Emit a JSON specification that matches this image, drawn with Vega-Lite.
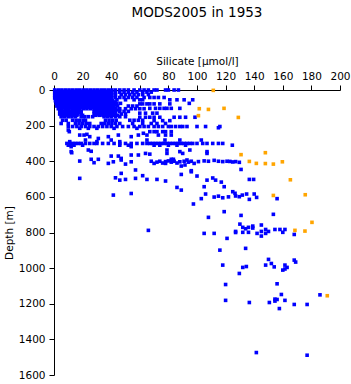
{
"$schema":"https://vega.github.io/schema/vega-lite/v6.json",
"width":286,"height":285,
"autosize":{"type":"none"},
"padding":{"left":54,"top":90,"right":11,"bottom":9},
"background":"white",
"title":{"text":"MODS2005 in 1953","font":"DejaVu Sans","fontSize":13.5,"fontWeight":"normal","color":"black","anchor":"middle","offset":37},
"config":{"view":{"stroke":null},"axis":{"grid":false,"domainColor":"black","tickColor":"black","tickSize":5,"labelColor":"black","labelFont":"DejaVu Sans","labelFontSize":10.5,"titleFont":"DejaVu Sans","titleFontSize":10.5,"titleFontWeight":"normal","titleColor":"black","labelPadding":4,"titlePadding":5,"labelOverlap":false,"labelFlush":false,"format":"d"}},
"data":{"values":[
{"si":0.5,"depth":0,"q":"ok"},{"si":3,"depth":0,"q":"ok"},{"si":5.5,"depth":0,"q":"ok"},{"si":8,"depth":0,"q":"ok"},{"si":10.5,"depth":0,"q":"ok"},{"si":13,"depth":0,"q":"ok"},{"si":15.5,"depth":0,"q":"ok"},{"si":18,"depth":0,"q":"ok"},{"si":20.5,"depth":0,"q":"ok"},{"si":23,"depth":0,"q":"ok"},{"si":25.5,"depth":0,"q":"ok"},{"si":28,"depth":0,"q":"ok"},{"si":30.5,"depth":0,"q":"ok"},{"si":33,"depth":0,"q":"ok"},{"si":35.5,"depth":0,"q":"ok"},{"si":38,"depth":0,"q":"ok"},{"si":40.5,"depth":0,"q":"ok"},
{"si":43,"depth":0,"q":"ok"},{"si":46,"depth":0,"q":"ok"},{"si":49,"depth":0,"q":"ok"},{"si":52,"depth":0,"q":"ok"},{"si":56,"depth":0,"q":"ok"},{"si":60,"depth":0,"q":"ok"},{"si":63,"depth":0,"q":"ok"},{"si":66,"depth":0,"q":"ok"},{"si":70,"depth":0,"q":"ok"},{"si":72,"depth":0,"q":"ok"},{"si":78,"depth":0,"q":"ok"},{"si":80,"depth":0,"q":"ok"},{"si":84,"depth":0,"q":"ok"},{"si":87,"depth":0,"q":"ok"},
{"si":1.75,"depth":7,"q":"ok"},{"si":4.25,"depth":7,"q":"ok"},{"si":6.75,"depth":7,"q":"ok"},{"si":9.25,"depth":7,"q":"ok"},{"si":11.75,"depth":7,"q":"ok"},{"si":14.25,"depth":7,"q":"ok"},{"si":16.75,"depth":7,"q":"ok"},{"si":19.25,"depth":7,"q":"ok"},{"si":21.75,"depth":7,"q":"ok"},{"si":24.25,"depth":7,"q":"ok"},{"si":26.75,"depth":7,"q":"ok"},{"si":29.25,"depth":7,"q":"ok"},{"si":31.75,"depth":7,"q":"ok"},{"si":34.25,"depth":7,"q":"ok"},{"si":36.75,"depth":7,"q":"ok"},{"si":39.25,"depth":7,"q":"ok"},
{"si":0.5,"depth":15,"q":"ok"},{"si":3,"depth":15,"q":"ok"},{"si":5.5,"depth":15,"q":"ok"},{"si":8,"depth":15,"q":"ok"},{"si":10.5,"depth":15,"q":"ok"},{"si":13,"depth":15,"q":"ok"},{"si":15.5,"depth":15,"q":"ok"},{"si":18,"depth":15,"q":"ok"},{"si":20.5,"depth":15,"q":"ok"},{"si":23,"depth":15,"q":"ok"},{"si":25.5,"depth":15,"q":"ok"},{"si":28,"depth":15,"q":"ok"},{"si":30.5,"depth":15,"q":"ok"},{"si":33,"depth":15,"q":"ok"},{"si":35.5,"depth":15,"q":"ok"},{"si":38,"depth":15,"q":"ok"},{"si":40.5,"depth":15,"q":"ok"},
{"si":43,"depth":12,"q":"ok"},{"si":46,"depth":12,"q":"ok"},{"si":49,"depth":12,"q":"ok"},{"si":52,"depth":12,"q":"ok"},{"si":55,"depth":12,"q":"ok"},{"si":58,"depth":12,"q":"ok"},{"si":62,"depth":12,"q":"ok"},{"si":65,"depth":12,"q":"ok"},{"si":68,"depth":12,"q":"ok"},
{"si":1.75,"depth":22,"q":"ok"},{"si":4.25,"depth":22,"q":"ok"},{"si":6.75,"depth":22,"q":"ok"},{"si":9.25,"depth":22,"q":"ok"},{"si":11.75,"depth":22,"q":"ok"},{"si":14.25,"depth":22,"q":"ok"},{"si":16.75,"depth":22,"q":"ok"},{"si":19.25,"depth":22,"q":"ok"},{"si":21.75,"depth":22,"q":"ok"},{"si":24.25,"depth":22,"q":"ok"},{"si":26.75,"depth":22,"q":"ok"},{"si":29.25,"depth":22,"q":"ok"},{"si":31.75,"depth":22,"q":"ok"},{"si":34.25,"depth":22,"q":"ok"},{"si":36.75,"depth":22,"q":"ok"},{"si":39.25,"depth":22,"q":"ok"},
{"si":0.5,"depth":30,"q":"ok"},{"si":3,"depth":30,"q":"ok"},{"si":5.5,"depth":30,"q":"ok"},{"si":8,"depth":30,"q":"ok"},{"si":10.5,"depth":30,"q":"ok"},{"si":13,"depth":30,"q":"ok"},{"si":15.5,"depth":30,"q":"ok"},{"si":18,"depth":30,"q":"ok"},{"si":20.5,"depth":30,"q":"ok"},{"si":23,"depth":30,"q":"ok"},{"si":25.5,"depth":30,"q":"ok"},{"si":28,"depth":30,"q":"ok"},{"si":30.5,"depth":30,"q":"ok"},{"si":33,"depth":30,"q":"ok"},{"si":35.5,"depth":30,"q":"ok"},{"si":38,"depth":30,"q":"ok"},{"si":40.5,"depth":30,"q":"ok"},
{"si":43,"depth":26,"q":"ok"},{"si":47,"depth":26,"q":"ok"},{"si":50,"depth":26,"q":"ok"},{"si":53,"depth":26,"q":"ok"},{"si":56,"depth":26,"q":"ok"},{"si":59,"depth":26,"q":"ok"},{"si":62,"depth":26,"q":"ok"},{"si":66,"depth":26,"q":"ok"},
{"si":1.75,"depth":37,"q":"ok"},{"si":4.25,"depth":37,"q":"ok"},{"si":6.75,"depth":37,"q":"ok"},{"si":9.25,"depth":37,"q":"ok"},{"si":11.75,"depth":37,"q":"ok"},{"si":14.25,"depth":37,"q":"ok"},{"si":16.75,"depth":37,"q":"ok"},{"si":19.25,"depth":37,"q":"ok"},{"si":21.75,"depth":37,"q":"ok"},{"si":24.25,"depth":37,"q":"ok"},{"si":26.75,"depth":37,"q":"ok"},{"si":29.25,"depth":37,"q":"ok"},{"si":31.75,"depth":37,"q":"ok"},{"si":34.25,"depth":37,"q":"ok"},{"si":36.75,"depth":37,"q":"ok"},{"si":39.25,"depth":37,"q":"ok"},
{"si":0.5,"depth":45,"q":"ok"},{"si":3,"depth":45,"q":"ok"},{"si":5.5,"depth":45,"q":"ok"},{"si":8,"depth":45,"q":"ok"},{"si":10.5,"depth":45,"q":"ok"},{"si":13,"depth":45,"q":"ok"},{"si":15.5,"depth":45,"q":"ok"},{"si":18,"depth":45,"q":"ok"},{"si":20.5,"depth":45,"q":"ok"},{"si":23,"depth":45,"q":"ok"},{"si":25.5,"depth":45,"q":"ok"},{"si":28,"depth":45,"q":"ok"},{"si":30.5,"depth":45,"q":"ok"},{"si":33,"depth":45,"q":"ok"},{"si":35.5,"depth":45,"q":"ok"},{"si":38,"depth":45,"q":"ok"},{"si":40.5,"depth":45,"q":"ok"},
{"si":43,"depth":42,"q":"ok"},{"si":46,"depth":42,"q":"ok"},{"si":49,"depth":42,"q":"ok"},{"si":52,"depth":42,"q":"ok"},{"si":55,"depth":42,"q":"ok"},{"si":58,"depth":42,"q":"ok"},{"si":63,"depth":42,"q":"ok"},{"si":67,"depth":42,"q":"ok"},{"si":70,"depth":42,"q":"ok"},{"si":73,"depth":42,"q":"ok"},{"si":77,"depth":42,"q":"ok"},
{"si":1.75,"depth":52,"q":"ok"},{"si":4.25,"depth":52,"q":"ok"},{"si":6.75,"depth":52,"q":"ok"},{"si":9.25,"depth":52,"q":"ok"},{"si":11.75,"depth":52,"q":"ok"},{"si":14.25,"depth":52,"q":"ok"},{"si":16.75,"depth":52,"q":"ok"},{"si":19.25,"depth":52,"q":"ok"},{"si":21.75,"depth":52,"q":"ok"},{"si":24.25,"depth":52,"q":"ok"},{"si":26.75,"depth":52,"q":"ok"},{"si":29.25,"depth":52,"q":"ok"},{"si":31.75,"depth":52,"q":"ok"},{"si":34.25,"depth":52,"q":"ok"},{"si":36.75,"depth":52,"q":"ok"},{"si":39.25,"depth":52,"q":"ok"},
{"si":1,"depth":60,"q":"ok"},{"si":3.5,"depth":60,"q":"ok"},{"si":6,"depth":60,"q":"ok"},{"si":8.5,"depth":60,"q":"ok"},{"si":11,"depth":60,"q":"ok"},{"si":13.5,"depth":60,"q":"ok"},{"si":16,"depth":60,"q":"ok"},{"si":18.5,"depth":60,"q":"ok"},{"si":21,"depth":60,"q":"ok"},{"si":23.5,"depth":60,"q":"ok"},{"si":26,"depth":60,"q":"ok"},{"si":28.5,"depth":60,"q":"ok"},{"si":31,"depth":60,"q":"ok"},{"si":33.5,"depth":60,"q":"ok"},{"si":36,"depth":60,"q":"ok"},{"si":38.5,"depth":60,"q":"ok"},{"si":41,"depth":60,"q":"ok"},
{"si":44,"depth":55,"q":"ok"},{"si":50,"depth":55,"q":"ok"},{"si":56,"depth":55,"q":"ok"},{"si":60,"depth":55,"q":"ok"},{"si":62,"depth":55,"q":"ok"},{"si":81,"depth":55,"q":"ok"},{"si":86,"depth":55,"q":"ok"},{"si":91,"depth":55,"q":"ok"},{"si":97,"depth":55,"q":"ok"},
{"si":2.75,"depth":67,"q":"ok"},{"si":5.25,"depth":67,"q":"ok"},{"si":7.75,"depth":67,"q":"ok"},{"si":10.25,"depth":67,"q":"ok"},{"si":12.75,"depth":67,"q":"ok"},{"si":15.25,"depth":67,"q":"ok"},{"si":17.75,"depth":67,"q":"ok"},{"si":20.25,"depth":67,"q":"ok"},{"si":22.75,"depth":67,"q":"ok"},{"si":25.25,"depth":67,"q":"ok"},{"si":27.75,"depth":67,"q":"ok"},{"si":30.25,"depth":67,"q":"ok"},{"si":32.75,"depth":67,"q":"ok"},{"si":35.25,"depth":67,"q":"ok"},{"si":37.75,"depth":67,"q":"ok"},{"si":40.25,"depth":67,"q":"ok"},{"si":42.75,"depth":67,"q":"ok"},
{"si":1.5,"depth":75,"q":"ok"},{"si":4,"depth":75,"q":"ok"},{"si":6.5,"depth":75,"q":"ok"},{"si":9,"depth":75,"q":"ok"},{"si":11.5,"depth":75,"q":"ok"},{"si":14,"depth":75,"q":"ok"},{"si":16.5,"depth":75,"q":"ok"},{"si":19,"depth":75,"q":"ok"},{"si":21.5,"depth":75,"q":"ok"},{"si":24,"depth":75,"q":"ok"},{"si":26.5,"depth":75,"q":"ok"},{"si":29,"depth":75,"q":"ok"},{"si":31.5,"depth":75,"q":"ok"},{"si":34,"depth":75,"q":"ok"},{"si":36.5,"depth":75,"q":"ok"},{"si":39,"depth":75,"q":"ok"},{"si":41.5,"depth":75,"q":"ok"},{"si":44,"depth":75,"q":"ok"},{"si":46.5,"depth":75,"q":"ok"},
{"si":60,"depth":78,"q":"ok"},{"si":62,"depth":78,"q":"ok"},{"si":65,"depth":78,"q":"ok"},{"si":67,"depth":78,"q":"ok"},{"si":70,"depth":78,"q":"ok"},{"si":74,"depth":78,"q":"ok"},{"si":81,"depth":78,"q":"ok"},{"si":94.6,"depth":75,"q":"ok"},
{"si":2.75,"depth":82,"q":"ok"},{"si":5.25,"depth":82,"q":"ok"},{"si":7.75,"depth":82,"q":"ok"},{"si":10.25,"depth":82,"q":"ok"},{"si":12.75,"depth":82,"q":"ok"},{"si":15.25,"depth":82,"q":"ok"},{"si":17.75,"depth":82,"q":"ok"},{"si":20.25,"depth":82,"q":"ok"},{"si":22.75,"depth":82,"q":"ok"},{"si":25.25,"depth":82,"q":"ok"},{"si":27.75,"depth":82,"q":"ok"},{"si":30.25,"depth":82,"q":"ok"},{"si":32.75,"depth":82,"q":"ok"},{"si":35.25,"depth":82,"q":"ok"},{"si":37.75,"depth":82,"q":"ok"},{"si":40.25,"depth":82,"q":"ok"},{"si":42.75,"depth":82,"q":"ok"},
{"si":2,"depth":90,"q":"ok"},{"si":4.5,"depth":90,"q":"ok"},{"si":7,"depth":90,"q":"ok"},{"si":9.5,"depth":90,"q":"ok"},{"si":12,"depth":90,"q":"ok"},{"si":14.5,"depth":90,"q":"ok"},{"si":17,"depth":90,"q":"ok"},{"si":19.5,"depth":90,"q":"ok"},{"si":22,"depth":90,"q":"ok"},{"si":24.5,"depth":90,"q":"ok"},{"si":27,"depth":90,"q":"ok"},{"si":29.5,"depth":90,"q":"ok"},{"si":32,"depth":90,"q":"ok"},{"si":34.5,"depth":90,"q":"ok"},{"si":37,"depth":90,"q":"ok"},{"si":39.5,"depth":90,"q":"ok"},{"si":42,"depth":90,"q":"ok"},{"si":44.5,"depth":90,"q":"ok"},{"si":52,"depth":90,"q":"ok"},{"si":55,"depth":90,"q":"ok"},{"si":58,"depth":90,"q":"ok"},
{"si":4,"depth":97,"q":"ok"},{"si":6.5,"depth":97,"q":"ok"},{"si":9,"depth":97,"q":"ok"},{"si":11.5,"depth":97,"q":"ok"},{"si":14,"depth":97,"q":"ok"},{"si":16.5,"depth":97,"q":"ok"},{"si":19,"depth":97,"q":"ok"},{"si":21.5,"depth":97,"q":"ok"},{"si":24,"depth":97,"q":"ok"},{"si":26.5,"depth":97,"q":"ok"},{"si":29,"depth":97,"q":"ok"},{"si":31.5,"depth":97,"q":"ok"},{"si":34,"depth":97,"q":"ok"},{"si":36.5,"depth":97,"q":"ok"},{"si":39,"depth":97,"q":"ok"},{"si":41.5,"depth":97,"q":"ok"},
{"si":3,"depth":105,"q":"ok"},{"si":5.5,"depth":105,"q":"ok"},{"si":8,"depth":105,"q":"ok"},{"si":10.5,"depth":105,"q":"ok"},{"si":13,"depth":105,"q":"ok"},{"si":15.5,"depth":105,"q":"ok"},{"si":18,"depth":105,"q":"ok"},{"si":20.5,"depth":105,"q":"ok"},{"si":23,"depth":105,"q":"ok"},{"si":25.5,"depth":105,"q":"ok"},{"si":28,"depth":105,"q":"ok"},{"si":30.5,"depth":105,"q":"ok"},{"si":33,"depth":105,"q":"ok"},{"si":35.5,"depth":105,"q":"ok"},{"si":38,"depth":105,"q":"ok"},{"si":40.5,"depth":105,"q":"ok"},{"si":43,"depth":105,"q":"ok"},{"si":46,"depth":105,"q":"ok"},{"si":50,"depth":105,"q":"ok"},{"si":54,"depth":105,"q":"ok"},{"si":57,"depth":105,"q":"ok"},{"si":60,"depth":105,"q":"ok"},{"si":63,"depth":105,"q":"ok"},
{"si":67,"depth":103,"q":"ok"},{"si":71,"depth":103,"q":"ok"},{"si":74,"depth":103,"q":"ok"},{"si":77,"depth":103,"q":"ok"},{"si":79,"depth":103,"q":"ok"},{"si":82,"depth":103,"q":"ok"},{"si":88,"depth":103,"q":"ok"},
{"si":5.25,"depth":112,"q":"ok"},{"si":7.75,"depth":112,"q":"ok"},{"si":10.25,"depth":112,"q":"ok"},{"si":12.75,"depth":112,"q":"ok"},{"si":15.25,"depth":112,"q":"ok"},{"si":17.75,"depth":112,"q":"ok"},{"si":29.25,"depth":112,"q":"ok"},{"si":31.75,"depth":112,"q":"ok"},{"si":34.25,"depth":112,"q":"ok"},{"si":36.75,"depth":112,"q":"ok"},{"si":39.25,"depth":112,"q":"ok"},{"si":41.75,"depth":112,"q":"ok"},{"si":44.25,"depth":112,"q":"ok"},
{"si":4,"depth":120,"q":"ok"},{"si":6.5,"depth":120,"q":"ok"},{"si":9,"depth":120,"q":"ok"},{"si":11.5,"depth":120,"q":"ok"},{"si":14,"depth":120,"q":"ok"},{"si":16.5,"depth":120,"q":"ok"},{"si":19,"depth":120,"q":"ok"},{"si":28,"depth":120,"q":"ok"},{"si":30.5,"depth":120,"q":"ok"},{"si":33,"depth":120,"q":"ok"},{"si":35.5,"depth":120,"q":"ok"},{"si":38,"depth":120,"q":"ok"},{"si":40.5,"depth":120,"q":"ok"},{"si":43,"depth":120,"q":"ok"},{"si":46,"depth":120,"q":"ok"},{"si":49,"depth":120,"q":"ok"},{"si":52,"depth":120,"q":"ok"},
{"si":5.25,"depth":127,"q":"ok"},{"si":7.75,"depth":127,"q":"ok"},{"si":10.25,"depth":127,"q":"ok"},{"si":12.75,"depth":127,"q":"ok"},{"si":15.25,"depth":127,"q":"ok"},{"si":17.75,"depth":127,"q":"ok"},{"si":29.25,"depth":127,"q":"ok"},{"si":31.75,"depth":127,"q":"ok"},{"si":34.25,"depth":127,"q":"ok"},{"si":36.75,"depth":127,"q":"ok"},{"si":39.25,"depth":127,"q":"ok"},{"si":41.75,"depth":127,"q":"ok"},
{"si":4,"depth":135,"q":"ok"},{"si":6.5,"depth":135,"q":"ok"},{"si":9,"depth":135,"q":"ok"},{"si":11.5,"depth":135,"q":"ok"},{"si":14,"depth":135,"q":"ok"},{"si":16.5,"depth":135,"q":"ok"},{"si":19,"depth":135,"q":"ok"},{"si":28,"depth":135,"q":"ok"},{"si":30.5,"depth":135,"q":"ok"},{"si":33,"depth":135,"q":"ok"},{"si":35.5,"depth":135,"q":"ok"},{"si":38,"depth":135,"q":"ok"},{"si":40.5,"depth":135,"q":"ok"},{"si":43,"depth":135,"q":"ok"},{"si":47,"depth":135,"q":"ok"},{"si":50,"depth":135,"q":"ok"},{"si":60,"depth":130,"q":"ok"},{"si":64,"depth":130,"q":"ok"},{"si":69,"depth":130,"q":"ok"},{"si":72,"depth":130,"q":"ok"},
{"si":5.25,"depth":142,"q":"ok"},{"si":7.75,"depth":142,"q":"ok"},{"si":10.25,"depth":142,"q":"ok"},{"si":12.75,"depth":142,"q":"ok"},{"si":16,"depth":142,"q":"ok"},{"si":20,"depth":142,"q":"ok"},{"si":29.25,"depth":142,"q":"ok"},{"si":31.75,"depth":142,"q":"ok"},{"si":34.25,"depth":142,"q":"ok"},{"si":36.75,"depth":142,"q":"ok"},{"si":39.25,"depth":142,"q":"ok"},{"si":41.75,"depth":142,"q":"ok"},{"si":44.25,"depth":142,"q":"ok"},
{"si":5,"depth":150,"q":"ok"},{"si":7.5,"depth":150,"q":"ok"},{"si":10,"depth":150,"q":"ok"},{"si":12.5,"depth":150,"q":"ok"},{"si":15,"depth":150,"q":"ok"},{"si":19,"depth":150,"q":"ok"},{"si":21.5,"depth":150,"q":"ok"},{"si":24,"depth":150,"q":"ok"},{"si":27,"depth":150,"q":"ok"},{"si":35,"depth":150,"q":"ok"},{"si":37.5,"depth":150,"q":"ok"},{"si":40,"depth":150,"q":"ok"},{"si":43,"depth":150,"q":"ok"},{"si":46,"depth":150,"q":"ok"},{"si":50,"depth":150,"q":"ok"},
{"si":60,"depth":153,"q":"ok"},{"si":64,"depth":153,"q":"ok"},{"si":67,"depth":153,"q":"ok"},{"si":70,"depth":153,"q":"ok"},{"si":74,"depth":153,"q":"ok"},{"si":84,"depth":153,"q":"ok"},{"si":88,"depth":153,"q":"ok"},{"si":92,"depth":153,"q":"ok"},{"si":98.6,"depth":153,"q":"ok"},
{"si":6,"depth":170,"q":"ok"},{"si":8.5,"depth":170,"q":"ok"},{"si":13,"depth":170,"q":"ok"},{"si":15.5,"depth":170,"q":"ok"},{"si":18,"depth":170,"q":"ok"},{"si":20.5,"depth":170,"q":"ok"},{"si":22,"depth":170,"q":"ok"},{"si":36,"depth":170,"q":"ok"},{"si":38.5,"depth":170,"q":"ok"},{"si":41,"depth":170,"q":"ok"},{"si":43.5,"depth":170,"q":"ok"},{"si":53,"depth":170,"q":"ok"},{"si":56,"depth":170,"q":"ok"},{"si":59,"depth":170,"q":"ok"},{"si":62,"depth":170,"q":"ok"},{"si":70,"depth":172,"q":"ok"},{"si":76,"depth":172,"q":"ok"},{"si":81,"depth":172,"q":"ok"},
{"si":5,"depth":188,"q":"ok"},{"si":10,"depth":188,"q":"ok"},{"si":15,"depth":188,"q":"ok"},{"si":17.5,"depth":188,"q":"ok"},{"si":20,"depth":188,"q":"ok"},{"si":22.5,"depth":188,"q":"ok"},{"si":25,"depth":188,"q":"ok"},{"si":33,"depth":188,"q":"ok"},{"si":35.5,"depth":188,"q":"ok"},{"si":38,"depth":188,"q":"ok"},{"si":40.5,"depth":188,"q":"ok"},{"si":43,"depth":188,"q":"ok"},{"si":46,"depth":188,"q":"ok"},{"si":55,"depth":188,"q":"ok"},{"si":62,"depth":188,"q":"ok"},{"si":68,"depth":188,"q":"ok"},{"si":72,"depth":188,"q":"ok"},{"si":78,"depth":188,"q":"ok"},
{"si":10,"depth":205,"q":"ok"},{"si":13,"depth":205,"q":"ok"},{"si":16,"depth":205,"q":"ok"},{"si":19,"depth":205,"q":"ok"},{"si":22,"depth":205,"q":"ok"},{"si":25,"depth":205,"q":"ok"},{"si":28,"depth":205,"q":"ok"},{"si":31,"depth":205,"q":"ok"},{"si":34,"depth":205,"q":"ok"},{"si":37,"depth":205,"q":"ok"},{"si":40,"depth":205,"q":"ok"},{"si":44,"depth":205,"q":"ok"},{"si":48,"depth":205,"q":"ok"},{"si":52,"depth":205,"q":"ok"},{"si":56,"depth":205,"q":"ok"},{"si":60,"depth":205,"q":"ok"},{"si":63,"depth":205,"q":"ok"},{"si":66,"depth":205,"q":"ok"},{"si":70,"depth":205,"q":"ok"},{"si":73,"depth":205,"q":"ok"},{"si":76,"depth":205,"q":"ok"},{"si":80,"depth":205,"q":"ok"},{"si":82,"depth":205,"q":"ok"},{"si":85,"depth":205,"q":"ok"},{"si":88,"depth":205,"q":"ok"},{"si":90,"depth":205,"q":"ok"},{"si":93,"depth":205,"q":"ok"},{"si":100,"depth":205,"q":"ok"},{"si":106,"depth":205,"q":"ok"},{"si":116,"depth":205,"q":"ok"},
{"si":18,"depth":215,"q":"ok"},{"si":24,"depth":215,"q":"ok"},{"si":30,"depth":215,"q":"ok"},{"si":42,"depth":215,"q":"ok"},{"si":58,"depth":215,"q":"ok"},{"si":115,"depth":212,"q":"ok"},
{"si":10.7,"depth":234,"q":"ok"},{"si":21,"depth":253,"q":"ok"},{"si":25,"depth":262,"q":"ok"},{"si":31,"depth":272,"q":"ok"},{"si":38,"depth":262,"q":"ok"},{"si":40,"depth":281,"q":"ok"},{"si":45,"depth":253,"q":"ok"},{"si":54,"depth":262,"q":"ok"},{"si":59,"depth":253,"q":"ok"},{"si":62.5,"depth":243,"q":"ok"},{"si":65,"depth":281,"q":"ok"},{"si":67,"depth":234,"q":"ok"},{"si":70,"depth":234,"q":"ok"},{"si":72,"depth":234,"q":"ok"},{"si":76,"depth":234,"q":"ok"},{"si":78,"depth":234,"q":"ok"},{"si":82,"depth":234,"q":"ok"},{"si":65,"depth":253,"q":"ok"},{"si":82,"depth":253,"q":"ok"},{"si":77.6,"depth":281,"q":"ok"},{"si":88,"depth":281,"q":"ok"},{"si":103,"depth":281,"q":"ok"},{"si":10,"depth":225,"q":"ok"},{"si":18,"depth":253,"q":"ok"},{"si":23,"depth":249,"q":"ok"},{"si":22,"depth":281,"q":"ok"},{"si":30,"depth":290,"q":"ok"},{"si":73,"depth":253,"q":"ok"},{"si":78,"depth":253,"q":"ok"},
{"si":9,"depth":300,"q":"ok"},{"si":11,"depth":300,"q":"ok"},{"si":13,"depth":300,"q":"ok"},{"si":15,"depth":300,"q":"ok"},{"si":17,"depth":300,"q":"ok"},{"si":19,"depth":300,"q":"ok"},{"si":22,"depth":300,"q":"ok"},{"si":25,"depth":300,"q":"ok"},{"si":28,"depth":300,"q":"ok"},{"si":30,"depth":300,"q":"ok"},{"si":34,"depth":300,"q":"ok"},{"si":38,"depth":300,"q":"ok"},{"si":42,"depth":300,"q":"ok"},{"si":46,"depth":300,"q":"ok"},{"si":50,"depth":300,"q":"ok"},{"si":54,"depth":300,"q":"ok"},{"si":58,"depth":300,"q":"ok"},{"si":62,"depth":300,"q":"ok"},{"si":65,"depth":300,"q":"ok"},{"si":67,"depth":300,"q":"ok"},{"si":69,"depth":300,"q":"ok"},{"si":71,"depth":300,"q":"ok"},{"si":73,"depth":300,"q":"ok"},{"si":75,"depth":300,"q":"ok"},{"si":77,"depth":300,"q":"ok"},{"si":79,"depth":300,"q":"ok"},{"si":81,"depth":300,"q":"ok"},{"si":83,"depth":300,"q":"ok"},{"si":85,"depth":300,"q":"ok"},{"si":87,"depth":300,"q":"ok"},{"si":89,"depth":300,"q":"ok"},{"si":91,"depth":300,"q":"ok"},{"si":93,"depth":300,"q":"ok"},{"si":95,"depth":300,"q":"ok"},{"si":97,"depth":300,"q":"ok"},{"si":100,"depth":300,"q":"ok"},{"si":104,"depth":300,"q":"ok"},{"si":107,"depth":300,"q":"ok"},{"si":111,"depth":300,"q":"ok"},{"si":115,"depth":300,"q":"ok"},{"si":118,"depth":300,"q":"ok"},
{"si":10,"depth":310,"q":"ok"},{"si":14,"depth":310,"q":"ok"},{"si":20,"depth":310,"q":"ok"},{"si":46,"depth":310,"q":"ok"},{"si":52,"depth":310,"q":"ok"},{"si":70,"depth":310,"q":"ok"},{"si":74,"depth":310,"q":"ok"},{"si":80,"depth":310,"q":"ok"},{"si":86,"depth":310,"q":"ok"},{"si":92,"depth":310,"q":"ok"},{"si":124.7,"depth":310,"q":"ok"},{"si":46,"depth":290,"q":"ok"},{"si":11,"depth":290,"q":"ok"},
{"si":12,"depth":318,"q":"ok"},{"si":54,"depth":318,"q":"ok"},{"si":12,"depth":346,"q":"ok"},{"si":24,"depth":337,"q":"ok"},{"si":26,"depth":344,"q":"ok"},{"si":79,"depth":337,"q":"ok"},{"si":79,"depth":356,"q":"ok"},{"si":88,"depth":346,"q":"ok"},{"si":90,"depth":356,"q":"ok"},{"si":95,"depth":337,"q":"ok"},{"si":107,"depth":346,"q":"ok"},{"si":107,"depth":356,"q":"ok"},{"si":67,"depth":360,"q":"ok"},{"si":12.4,"depth":352,"q":"ok"},{"si":40,"depth":371,"q":"ok"},{"si":45,"depth":371,"q":"ok"},{"si":54,"depth":365,"q":"ok"},{"si":59,"depth":365,"q":"ok"},{"si":64,"depth":356,"q":"ok"},{"si":82,"depth":389,"q":"ok"},{"si":31,"depth":389,"q":"ok"},{"si":26,"depth":389,"q":"ok"},{"si":47,"depth":384,"q":"ok"},{"si":83.5,"depth":389,"q":"ok"},
{"si":18,"depth":399,"q":"ok"},{"si":28,"depth":408,"q":"ok"},{"si":38,"depth":412,"q":"ok"},{"si":41.5,"depth":403,"q":"ok"},{"si":47,"depth":393,"q":"ok"},{"si":50,"depth":416,"q":"ok"},{"si":54,"depth":403,"q":"ok"},{"si":68,"depth":400,"q":"ok"},{"si":70,"depth":412,"q":"ok"},{"si":72,"depth":405,"q":"ok"},{"si":74,"depth":400,"q":"ok"},{"si":76,"depth":410,"q":"ok"},{"si":78,"depth":402,"q":"ok"},{"si":80,"depth":398,"q":"ok"},{"si":82,"depth":405,"q":"ok"},{"si":84,"depth":400,"q":"ok"},{"si":86,"depth":410,"q":"ok"},{"si":88,"depth":403,"q":"ok"},{"si":91,"depth":400,"q":"ok"},{"si":94,"depth":405,"q":"ok"},{"si":96,"depth":400,"q":"ok"},{"si":101,"depth":402,"q":"ok"},{"si":105,"depth":398,"q":"ok"},{"si":108,"depth":400,"q":"ok"},{"si":112,"depth":395,"q":"ok"},{"si":115,"depth":400,"q":"ok"},{"si":118,"depth":402,"q":"ok"},{"si":121,"depth":400,"q":"ok"},{"si":123,"depth":401,"q":"ok"},{"si":125,"depth":404,"q":"ok"},{"si":127,"depth":402,"q":"ok"},{"si":129.6,"depth":406,"q":"ok"},{"si":93,"depth":393,"q":"ok"},{"si":78,"depth":412,"q":"ok"},{"si":91.6,"depth":421,"q":"ok"},{"si":98,"depth":412,"q":"ok"},
{"si":89,"depth":427,"q":"ok"},{"si":130.8,"depth":446,"q":"ok"},{"si":96,"depth":453,"q":"ok"},{"si":89,"depth":474,"q":"ok"},{"si":96,"depth":459,"q":"ok"},{"si":47,"depth":468,"q":"ok"},{"si":57,"depth":449,"q":"ok"},{"si":62,"depth":481,"q":"ok"},{"si":100,"depth":483,"q":"ok"},{"si":43,"depth":493,"q":"ok"},{"si":46,"depth":506,"q":"ok"},{"si":50,"depth":502,"q":"ok"},{"si":57,"depth":496,"q":"ok"},{"si":65,"depth":502,"q":"ok"},{"si":72,"depth":502,"q":"ok"},{"si":78,"depth":511,"q":"ok"},{"si":18,"depth":496,"q":"ok"},{"si":107,"depth":506,"q":"ok"},{"si":111,"depth":494,"q":"ok"},{"si":113,"depth":506,"q":"ok"},{"si":117,"depth":517,"q":"ok"},{"si":136.6,"depth":502,"q":"ok"},{"si":139.6,"depth":502,"q":"ok"},{"si":86,"depth":547,"q":"ok"},{"si":89,"depth":562,"q":"ok"},{"si":105,"depth":543,"q":"ok"},{"si":119,"depth":543,"q":"ok"},
{"si":41.5,"depth":590,"q":"ok"},{"si":54,"depth":581,"q":"ok"},{"si":106,"depth":584,"q":"ok"},{"si":103,"depth":610,"q":"ok"},{"si":112,"depth":601,"q":"ok"},{"si":115,"depth":596,"q":"ok"},{"si":118,"depth":605,"q":"ok"},{"si":122,"depth":600,"q":"ok"},{"si":125,"depth":571,"q":"ok"},{"si":126.6,"depth":580,"q":"ok"},{"si":127,"depth":595,"q":"ok"},{"si":129.6,"depth":599,"q":"ok"},{"si":131.7,"depth":590,"q":"ok"},{"si":134.7,"depth":584,"q":"ok"},{"si":136.6,"depth":614,"q":"ok"},{"si":140,"depth":584,"q":"ok"},{"si":141.7,"depth":603,"q":"ok"},{"si":156,"depth":610,"q":"ok"},{"si":97.5,"depth":640,"q":"ok"},
{"si":119,"depth":683,"q":"ok"},{"si":108,"depth":715,"q":"ok"},{"si":130.8,"depth":704,"q":"ok"},{"si":153.4,"depth":698,"q":"ok"},{"si":66,"depth":788,"q":"ok"},{"si":105,"depth":805,"q":"ok"},{"si":112,"depth":805,"q":"ok"},{"si":121,"depth":833,"q":"ok"},{"si":127,"depth":794,"q":"ok"},{"si":127,"depth":800,"q":"ok"},{"si":130,"depth":753,"q":"ok"},{"si":132,"depth":771,"q":"ok"},{"si":132,"depth":799,"q":"ok"},{"si":134,"depth":779,"q":"ok"},{"si":136,"depth":771,"q":"ok"},{"si":136,"depth":799,"q":"ok"},{"si":139,"depth":764,"q":"ok"},{"si":139,"depth":775,"q":"ok"},{"si":142,"depth":805,"q":"ok"},{"si":145,"depth":758,"q":"ok"},{"si":145,"depth":794,"q":"ok"},{"si":145,"depth":820,"q":"ok"},{"si":148,"depth":783,"q":"ok"},{"si":148,"depth":805,"q":"ok"},{"si":150,"depth":794,"q":"ok"},{"si":154.5,"depth":783,"q":"ok"},{"si":158,"depth":783,"q":"ok"},{"si":160,"depth":799,"q":"ok"},{"si":161.5,"depth":783,"q":"ok"},{"si":168,"depth":811,"q":"ok"},
{"si":116,"depth":899,"q":"ok"},{"si":134,"depth":889,"q":"ok"},{"si":118,"depth":983,"q":"ok"},{"si":129.6,"depth":1030,"q":"ok"},{"si":132,"depth":996,"q":"ok"},{"si":134.5,"depth":991,"q":"ok"},{"si":148,"depth":983,"q":"ok"},{"si":150,"depth":951,"q":"ok"},{"si":152,"depth":974,"q":"ok"},{"si":154,"depth":993,"q":"ok"},{"si":161.5,"depth":983,"q":"ok"},{"si":161.5,"depth":1005,"q":"ok"},{"si":163,"depth":996,"q":"ok"},{"si":160,"depth":1011,"q":"ok"},{"si":168,"depth":955,"q":"ok"},{"si":169,"depth":966,"q":"ok"},{"si":120,"depth":1092,"q":"ok"},{"si":156,"depth":1088,"q":"ok"},{"si":120,"depth":1181,"q":"ok"},{"si":136.6,"depth":1193,"q":"ok"},{"si":150.6,"depth":1193,"q":"ok"},{"si":154.5,"depth":1174,"q":"ok"},{"si":154.5,"depth":1185,"q":"ok"},{"si":156,"depth":1176,"q":"ok"},{"si":159,"depth":1148,"q":"ok"},{"si":161.5,"depth":1181,"q":"ok"},{"si":157.6,"depth":1227,"q":"ok"},{"si":168,"depth":1204,"q":"ok"},{"si":177,"depth":1204,"q":"ok"},{"si":186,"depth":1150,"q":"ok"},{"si":141.5,"depth":1474,"q":"ok"},{"si":177,"depth":1489,"q":"ok"},
{"si":111.4,"depth":2,"q":"bad"},{"si":101.6,"depth":105,"q":"bad"},{"si":108,"depth":109,"q":"bad"},{"si":118.9,"depth":103,"q":"bad"},{"si":101,"depth":144,"q":"bad"},{"si":128.9,"depth":154,"q":"bad"},{"si":130.8,"depth":363,"q":"bad"},{"si":147.8,"depth":352,"q":"bad"},{"si":136.6,"depth":401,"q":"bad"},{"si":141.5,"depth":412,"q":"bad"},{"si":147.8,"depth":413,"q":"bad"},{"si":153.4,"depth":416,"q":"bad"},{"si":159.7,"depth":403,"q":"bad"},{"si":165.3,"depth":504,"q":"bad"},{"si":175.7,"depth":588,"q":"bad"},{"si":153.4,"depth":592,"q":"bad"},{"si":180.4,"depth":743,"q":"bad"},{"si":168.5,"depth":788,"q":"bad"},{"si":175.5,"depth":792,"q":"bad"},{"si":191.1,"depth":1155,"q":"bad"}
]},
"mark":{"type":"point","shape":"square","filled":true,"size":13,"opacity":1},
"encoding":{
"x":{"field":"si","type":"quantitative","scale":{"domain":[0,200],"nice":false,"zero":false},"axis":{"orient":"top","title":"Silicate [µmol/l]","values":[0,20,40,60,80,100,120,140,160,180,200]}},
"y":{"field":"depth","type":"quantitative","scale":{"domain":[0,1600],"reverse":true,"nice":false},"axis":{"orient":"left","title":"Depth [m]","titlePadding":4,"values":[0,200,400,600,800,1000,1200,1400,1600]}},
"color":{"field":"q","type":"nominal","scale":{"domain":["ok","bad"],"range":["#0000ff","#ffa500"]},"legend":null}
}
}
